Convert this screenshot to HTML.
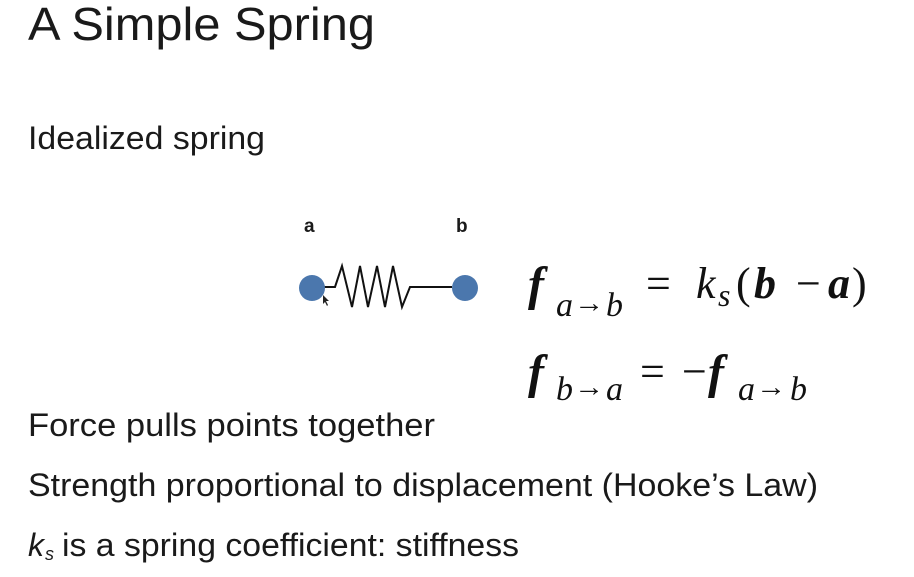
<!DOCTYPE html>
<html><head><meta charset="utf-8"><style>
html,body{margin:0;padding:0;background:#fff;}
svg{display:block;}
.s{font-family:"Liberation Sans",sans-serif;fill:#1a1a1a;}
.m{font-family:"Liberation Serif",serif;fill:#111;}
</style></head><body>
<svg width="914" height="577" viewBox="0 0 914 577" xmlns="http://www.w3.org/2000/svg">
<text class="s" x="28" y="40" font-size="46" textLength="347" lengthAdjust="spacingAndGlyphs">A Simple Spring</text>
<text class="s" x="28" y="149" font-size="32" textLength="237" lengthAdjust="spacingAndGlyphs">Idealized spring</text>
<text class="s" x="304" y="232" font-size="19" font-weight="bold">a</text>
<text class="s" x="456" y="232" font-size="19" font-weight="bold">b</text>
<polyline points="322,287 335,287 342,266 352,307 360,266 368,307 377,266 385,307 393,266 402,307 410,287 452,287" fill="none" stroke="#111" stroke-width="2"/>
<circle cx="312" cy="288" r="13" fill="#4b77ad"/>
<circle cx="465" cy="288" r="13" fill="#4b77ad"/>
<path d="M323,295 l0,9 l2,-2 l2,4 l1,-1 l-2,-4 l3,0 z" fill="#222"/>
<g class="m">
<text x="528" y="300" font-size="48" font-style="italic" font-weight="bold">f</text>
<text x="556" y="316" font-size="34" font-style="italic">a</text>
<text x="574" y="312" font-size="28" textLength="30" lengthAdjust="spacingAndGlyphs">→</text>
<text x="606" y="316" font-size="34" font-style="italic">b</text>
<text x="646" y="298" font-size="44">=</text>
<text x="696" y="298" font-size="44" font-style="italic">k</text>
<text x="718" y="306" font-size="32" font-style="italic">s</text>
<text x="736" y="298" font-size="44">(</text>
<text x="754" y="298" font-size="44" font-weight="bold" font-style="italic">b</text>
<text x="796" y="298" font-size="44">−</text>
<text x="828" y="298" font-size="44" font-weight="bold" font-style="italic">a</text>
<text x="852" y="298" font-size="44">)</text>
<text x="528" y="388" font-size="48" font-style="italic" font-weight="bold">f</text>
<text x="556" y="400" font-size="34" font-style="italic">b</text>
<text x="574" y="396" font-size="28" textLength="30" lengthAdjust="spacingAndGlyphs">→</text>
<text x="606" y="400" font-size="34" font-style="italic">a</text>
<text x="640" y="386" font-size="44">=</text>
<text x="682" y="386" font-size="44">−</text>
<text x="708" y="388" font-size="48" font-style="italic" font-weight="bold">f</text>
<text x="738" y="400" font-size="34" font-style="italic">a</text>
<text x="756" y="396" font-size="28" textLength="30" lengthAdjust="spacingAndGlyphs">→</text>
<text x="790" y="400" font-size="34" font-style="italic">b</text>
</g>
<text class="s" x="28" y="436" font-size="32" textLength="407" lengthAdjust="spacingAndGlyphs">Force pulls points together</text>
<text class="s" x="28" y="496" font-size="32" textLength="790" lengthAdjust="spacingAndGlyphs">Strength proportional to displacement (Hooke’s Law)</text>
<text class="s" x="28" y="556" font-size="32" font-style="italic">k</text>
<text class="s" x="45" y="560" font-size="18" font-style="italic">s</text>
<text class="s" x="62" y="556" font-size="32" textLength="457" lengthAdjust="spacingAndGlyphs">is a spring coefficient: stiffness</text>
</svg>
</body></html>
